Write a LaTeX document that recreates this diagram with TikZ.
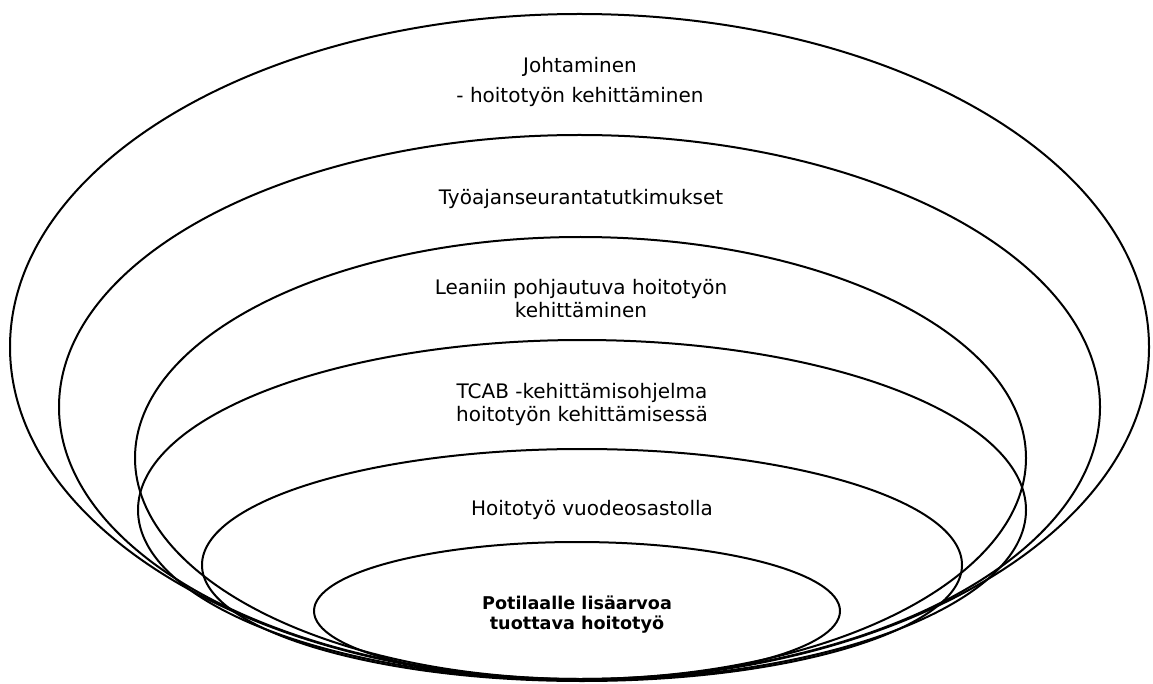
\documentclass[tikz,border=0pt]{standalone}
\usepackage{fontspec}
\setmainfont{DejaVu Sans}
\begin{document}
\begin{tikzpicture}[x=1pt,y=-1pt,
  ring/.style={draw=black,line width=2pt},
  lbl/.style={align=center,font=\fontsize{20}{23}\selectfont,inner sep=0pt},
  core/.style={align=center,font=\fontsize{17.6}{20}\selectfont\bfseries,inner sep=0pt}]
\useasboundingbox (0,0) rectangle (1153,684);
\draw[ring] (579.5,347) ellipse [x radius=569.5,y radius=333];
\draw[ring] (579.5,407) ellipse [x radius=520.5,y radius=272];
\draw[ring] (580.5,458) ellipse [x radius=445.5,y radius=221];
\draw[ring] (582,510) ellipse [x radius=444,y radius=170];
\draw[ring] (582,565) ellipse [x radius=380,y radius=116];
\draw[ring] (577,611) ellipse [x radius=263,y radius=69];
\node[lbl] (johto) at (580,82) {Johtaminen\\[7pt]- hoitotyön kehittäminen};
\node[lbl] (tyoaika) at (581,199) {Työajanseurantatutkimukset};
\node[lbl] (lean) at (581,299) {Leaniin pohjautuva hoitotyön\\kehittäminen};
\node[lbl] (tcab) at (582,404) {TCAB -kehittämisohjelma\\hoitotyön kehittämisessä};
\node[lbl] (osasto) at (592,510) {Hoitotyö vuodeosastolla};
\node[core] (potilas) at (577,615) {Potilaalle lisäarvoa\\tuottava hoitotyö};
\end{tikzpicture}
\end{document}
